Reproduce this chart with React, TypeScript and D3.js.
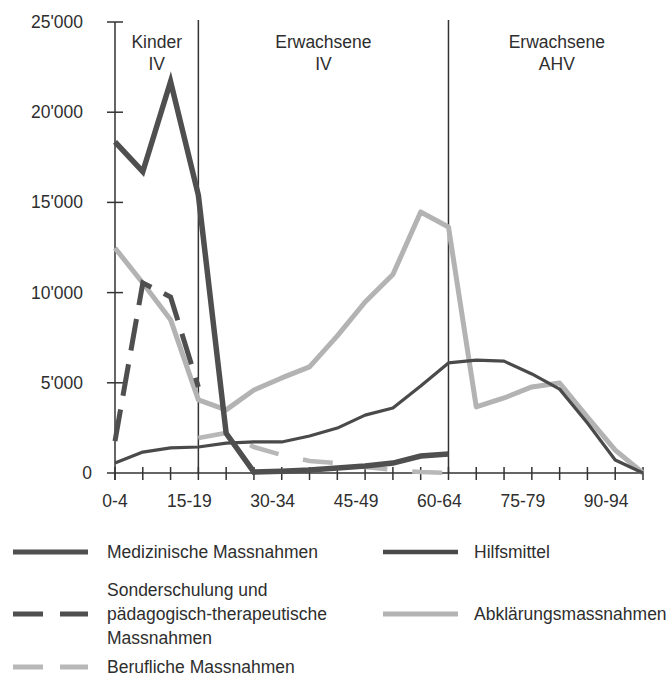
import React from "react";
import * as d3 from "d3";

const ageGroups = ["0-4","5-9","10-14","15-19","20-24","25-29","30-34","35-39","40-44","45-49","50-54","55-59","60-64","65-69","70-74","75-79","80-84","85-89","90-94","95-99"];
const labelledAges = ["0-4","15-19","30-34","45-49","60-64","75-79","90-94"];
const yTicks = [0, 5000, 10000, 15000, 20000, 25000];

// values per age group, starting at index given
const medizinische = [18350, 16700, 21700, 15400, 2200, 50, 100, 170, 280, 390, 550, 940, 1050];
const sonderschulung = [1770, 10530, 9760, 4770];
const hilfsmittel = [550, 1160, 1390, 1440, 1660, 1720, 1720, 2050, 2490, 3210, 3600, 4820, 6100, 6260, 6200, 5490, 4650, 2770, 720, 0];
const abklaerung = [12470, 10530, 8500, 4050, 3500, 4600, 5270, 5880, 7600, 9480, 11000, 14470, 13640, 3660, 4160, 4770, 4990, 3100, 1270, 0];
const beruflicheStart = 3;
const berufliche = [1940, 2220, 1440, 1000, 665, 550, 330, 170, 50, 0];

const groups = [
  { l1: "Kinder", l2: "IV", pos: 1.5 },
  { l1: "Erwachsene", l2: "IV", pos: 7.5 },
  { l1: "Erwachsene", l2: "AHV", pos: 15.9 },
];
const separators = [3, 12];

const W = 667, H = 677;
const FONT = "'Liberation Sans', Arial, Helvetica, sans-serif";
const TXT = "#2e2e2e";
const FS = 17.5;

export default function App() {
  const x = d3.scaleLinear().domain([0, 19]).range([115, 643]);
  const y = d3.scaleLinear().domain([0, 25000]).range([473, 22]);
  const line = d3.line<[number, number]>().x(d => x(d[0])).y(d => y(d[1]));
  const pts = (arr: number[], start = 0) => arr.map((v, i) => [i + start, v] as [number, number]);

  const cMed = "#4f4f4f";
  const cHilf = "#4a4a4a";
  const cAbk = "#b3b3b3";
  const cBer = "#b8b8b8";

  return (
    <svg width={W} height={H} style={{ position: "absolute", left: 0, top: 0, background: "#fff" }} fontFamily={FONT}>
      {/* y axis */}
      <line x1={x(0)} x2={x(0)} y1={y(25000)} y2={480} stroke="#333" strokeWidth={1.5} />
      {yTicks.map(t => (
        <g key={t}>
          {t > 0 && <line x1={107} x2={123} y1={y(t)} y2={y(t)} stroke="#333" strokeWidth={1.5} />}
          <text x={t === 0 ? 92 : 83} y={y(t) + 6} textAnchor="end" fontSize={FS} fill={TXT}>
            {t === 0 ? "0" : d3.format(",")(t).replace(",", "'")}
          </text>
        </g>
      ))}
      {/* x axis */}
      <line x1={107} x2={x(19)} y1={y(0)} y2={y(0)} stroke="#333" strokeWidth={1.5} />
      {ageGroups.map((a, i) => (
        <line key={a} x1={x(i)} x2={x(i)} y1={467} y2={480} stroke="#333" strokeWidth={1.5} />
      ))}
      {labelledAges.map(a => {
        const i = ageGroups.indexOf(a);
        return (
          <text key={a} x={x(i) - (i === 0 ? 0 : 9)} y={507} textAnchor="middle" fontSize={FS} fill={TXT}>{a}</text>
        );
      })}
      {/* separators */}
      {separators.map(s => (
        <line key={s} x1={x(s)} x2={x(s)} y1={20} y2={y(0)} stroke="#333" strokeWidth={1.5} />
      ))}
      {groups.map((g, i) => (
        <g key={i}>
          <text x={x(g.pos)} y={48} textAnchor="middle" fontSize={FS} fill={TXT}>{g.l1}</text>
          <text x={x(g.pos)} y={70} textAnchor="middle" fontSize={FS} fill={TXT}>{g.l2}</text>
        </g>
      ))}
      {/* series */}
      <path d={line(pts(abklaerung)) || ""} fill="none" stroke={cAbk} strokeWidth={5} strokeLinejoin="round" />
      <path d={line(pts(berufliche, beruflicheStart)) || ""} fill="none" stroke={cBer} strokeWidth={4.5} strokeDasharray="30,25" />
      <path d={line(pts(hilfsmittel)) || ""} fill="none" stroke={cHilf} strokeWidth={3.2} strokeLinejoin="round" />
      <path d={line(pts(sonderschulung)) || ""} fill="none" stroke={cMed} strokeWidth={5} strokeDasharray="32,14" />
      <path d={line(pts(medizinische)) || ""} fill="none" stroke={cMed} strokeWidth={5.5} strokeLinejoin="miter" />

      {/* legend */}
      <g fontSize={FS} fill={TXT}>
        <line x1={13} x2={88} y1={552} y2={552} stroke={cMed} strokeWidth={5} />
        <text x={107} y={558}>Medizinische Massnahmen</text>

        <line x1={13} x2={88} y1={614} y2={614} stroke={cMed} strokeWidth={5} strokeDasharray="30,17" />
        <text x={107} y={596}>Sonderschulung und</text>
        <text x={107} y={620}>pädagogisch-therapeutische</text>
        <text x={107} y={644}>Massnahmen</text>

        <line x1={13} x2={88} y1={667} y2={667} stroke={cBer} strokeWidth={5} strokeDasharray="30,17" />
        <text x={107} y={673}>Berufliche Massnahmen</text>

        <line x1={383} x2={458} y1={552} y2={552} stroke={cHilf} strokeWidth={4.5} />
        <text x={474} y={558}>Hilfsmittel</text>

        <line x1={383} x2={458} y1={614} y2={614} stroke={cAbk} strokeWidth={5} />
        <text x={474} y={620}>Abklärungsmassnahmen</text>
      </g>
    </svg>
  );
}
